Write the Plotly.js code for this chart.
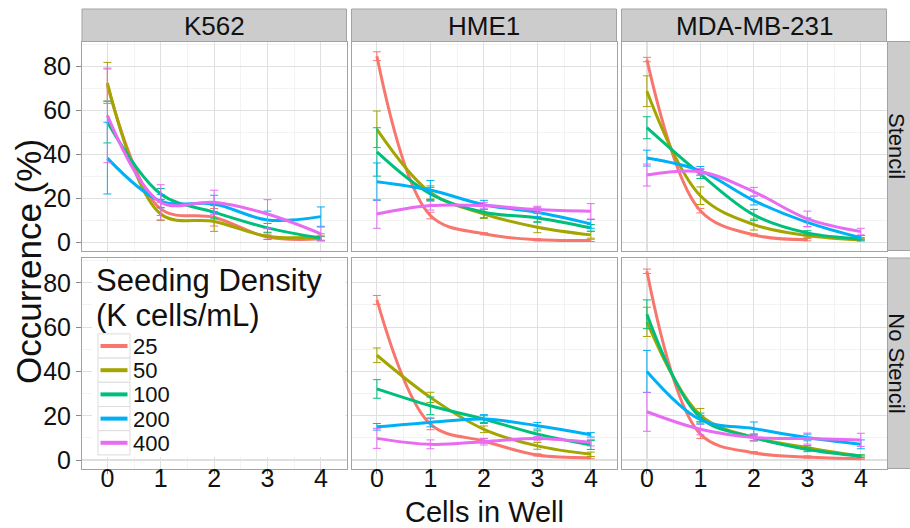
<!DOCTYPE html>
<html>
<head>
<meta charset="utf-8">
<script src="https://cdn.plot.ly/plotly-3.0.1.min.js"></script>
<style>html,body{margin:0;padding:0;background:#fff;}#chart{width:910px;height:528px;}</style>
</head>
<body>
<div id="chart"></div>
<script>
// ---------- data ----------
const cellsInWell = [0, 1, 2, 3, 4];
const densities = ['25', '50', '100', '200', '400'];
const colors = ['#F8766D', '#A3A500', '#00BF7D', '#00B0F6', '#E76BF3'];
const cellLines = ['K562', 'HME1', 'MDA-MB-231'];
const conditions = ['Stencil', 'No Stencil'];

// rows: 25, 50, 100, 200, 400 K cells/mL ; columns: 0..4 cells in well
const k562Stencil = [
  [71.4, 15.1, 11.3, 2.3, 1.5],
  [72.4, 12.8, 9.4, 2.7, 2.3],
  [54.6, 21.9, 13.6, 6.5, 1.8],
  [38.2, 18.6, 17.3, 10.1, 11.6],
  [57.6, 18.1, 18.1, 12.8, 3.8]
];
const k562StencilErr = [
  [7.3, 3, 4, 1, 1],
  [9.3, 3, 4.5, 1.5, 1.5],
  [9.5, 2.5, 3, 2, 1],
  [16.3, 3, 4, 4, 4.4],
  [21.5, 8, 5.5, 6.5, 3]
];
const hme1Stencil = [
  [84.5, 12.1, 3.8, 1.1, 0.8],
  [51.3, 22.6, 12.8, 6.8, 3.3],
  [41.0, 21.9, 13.6, 11.0, 6.5],
  [27.5, 23.7, 17.0, 13.6, 8.3],
  [12.8, 16.6, 16.6, 14.8, 14.0]
];
const hme1StencilErr = [
  [2, 1.5, 0.5, 0.5, 0.5],
  [8.3, 3, 2, 2.5, 1.5],
  [11, 3, 2.5, 2, 1.5],
  [8.5, 4.3, 2, 2, 2],
  [6.5, 2, 1.5, 1.5, 3.5]
];
const mdaStencil = [
  [83.0, 14.3, 3.3, 1.1, null],
  [68.6, 21.1, 8.0, 3.0, 1.0],
  [52.0, 30.9, 12.4, 4.2, 1.5],
  [38.2, 32.4, 18.9, 9.0, 2.0],
  [30.5, 32.0, 22.9, 10.6, 4.8]
];
const mdaStencilErr = [
  [1, 1, 0.5, 0.5, null],
  [7, 4, 2.5, 1, 0.5],
  [5, 2, 2.5, 1, 0.5],
  [3.6, 2, 2, 2, 1],
  [5, 1.5, 2, 3.5, 1.5]
];
const hme1NoStencil = [
  [72.3, 16.2, 8.6, 2.3, 1.1],
  [47.3, 28.3, 13.9, 6.4, 2.6],
  [32.1, 24.5, 18.5, 11.7, 6.8],
  [15.0, 17.0, 18.5, 15.5, 11.4],
  [9.8, 7.1, 8.3, 9.7, 7.9]
];
const hme1NoStencilErr = [
  [2, 2.5, 1, 0.5, 0.5],
  [3.3, 2.3, 1.5, 1.5, 1],
  [4.2, 4, 1.5, 1.5, 2],
  [1.5, 2, 2, 1.5, 1],
  [4.5, 2, 1.5, 1, 1.5]
];
const mdaNoStencil = [
  [85.2, 11.7, 3.3, 1.4, 0.6],
  [62.4, 20.3, 10.2, 5.6, 1.8],
  [65.8, 19.2, 10.2, 4.8, 1.8],
  [40.0, 18.2, 14.2, 10.2, 7.1],
  [21.8, 13.9, 10.2, 9.7, 9.1]
];
const mdaNoStencilErr = [
  [1, 2, 0.5, 0.5, 0.3],
  [6.6, 3, 1.5, 1, 0.5],
  [6.5, 2, 1.5, 1, 0.5],
  [9.5, 2, 3, 1.5, 2],
  [8.8, 2.5, 1.5, 2.5, 3]
];
const yTicks = [0, 20, 40, 60, 80];
const xTicks = [0, 1, 2, 3, 4];

// ---------- layout geometry (pixels) ----------
const W = 910, H = 528;
const colPx = [[82, 346.5], [351.5, 616.5], [621.5, 886.5]];
const rowPx = [[41.5, 250.5], [258, 468.5]];
const px = v => v / W;
const py = v => 1 - v / H;
const FONT = 'Arial, "Liberation Sans", sans-serif';
const TXT = '#111111';

const panels = [
  {row: 0, col: 0, mean: k562Stencil, err: k562StencilErr},
  {row: 0, col: 1, mean: hme1Stencil, err: hme1StencilErr},
  {row: 0, col: 2, mean: mdaStencil, err: mdaStencilErr},
  {row: 1, col: 0, mean: null, err: null},
  {row: 1, col: 1, mean: hme1NoStencil, err: hme1NoStencilErr},
  {row: 1, col: 2, mean: mdaNoStencil, err: mdaNoStencilErr}
];

const data = [];
const layout = {
  width: W, height: H,
  margin: {l: 0, r: 0, t: 0, b: 0},
  paper_bgcolor: '#ffffff', plot_bgcolor: '#ffffff',
  showlegend: false,
  font: {family: FONT, color: TXT},
  shapes: [], annotations: []
};

panels.forEach((p, k) => {
  const n = k + 1;
  const xa = 'x' + (n === 1 ? '' : n), ya = 'y' + (n === 1 ? '' : n);
  const xKey = 'xaxis' + (n === 1 ? '' : n), yKey = 'yaxis' + (n === 1 ? '' : n);
  const bottom = p.row === 1, left = p.col === 0;
  layout[xKey] = {
    domain: [px(colPx[p.col][0]), px(colPx[p.col][1])],
    anchor: ya, range: [-0.475, 4.48],
    tickmode: 'array', tickvals: xTicks, ticktext: xTicks.map(String),
    showticklabels: bottom, ticks: bottom ? 'outside' : '', ticklen: 4, tickwidth: 1, tickcolor: '#8a8a8a',
    ticklabelstandoff: -17,
    tickfont: {size: 25, family: FONT, color: TXT},
    showgrid: true, gridcolor: '#E0E0E0', gridwidth: 1.2,
    minor: {dtick: 0.5, tick0: 0, showgrid: true, gridcolor: '#F0F0F0', gridwidth: 0.8, ticks: ''},
    zeroline: false, showline: true, mirror: true, linecolor: '#A3A3A3', linewidth: 1,
    fixedrange: true
  };
  layout[yKey] = {
    domain: [py(rowPx[p.row][1]), py(rowPx[p.row][0])],
    anchor: xa, range: [-3.8, 91.2],
    tickmode: 'array', tickvals: yTicks, ticktext: yTicks.map(String),
    showticklabels: left, ticks: left ? 'outside' : '', ticklen: 5, tickwidth: 1, tickcolor: '#8a8a8a',
    tickfont: {size: 25, family: FONT, color: TXT},
    showgrid: true, gridcolor: '#E0E0E0', gridwidth: 1.2,
    minor: {dtick: 10, tick0: 0, showgrid: true, gridcolor: '#F0F0F0', gridwidth: 0.8, ticks: ''},
    zeroline: false, showline: true, mirror: true, linecolor: '#A3A3A3', linewidth: 1,
    fixedrange: true
  };
  if (!p.mean) {
    data.push({x: [], y: [], xaxis: xa, yaxis: ya, type: 'scatter', mode: 'lines', showlegend: false, hoverinfo: 'skip'});
    return;
  }
  densities.forEach((d, i) => {
    data.push({
      type: 'scatter', mode: 'lines', name: d,
      x: cellsInWell, y: p.mean[i], xaxis: xa, yaxis: ya,
      line: {color: colors[i], width: 3, shape: 'spline', smoothing: 1},
      error_y: {type: 'data', array: p.err[i], visible: true, color: colors[i], thickness: 1, width: 4},
      showlegend: false, connectgaps: false, hoverinfo: 'skip'
    });
  });
});

// strips (facet labels)
const STRIP_FILL = '#CCCCCC', STRIP_LINE = '#A3A3A3';
cellLines.forEach((name, c) => {
  layout.shapes.push({type: 'rect', xref: 'paper', yref: 'paper',
    x0: px(colPx[c][0]), x1: px(colPx[c][1]), y0: py(41.5), y1: py(9),
    fillcolor: STRIP_FILL, line: {color: STRIP_LINE, width: 1}});
  layout.annotations.push({xref: 'paper', yref: 'paper', x: px((colPx[c][0] + colPx[c][1]) / 2), y: py(25.5),
    text: name, showarrow: false, xanchor: 'center', yanchor: 'middle',
    font: {size: 26, family: FONT, color: TXT}});
});
conditions.forEach((name, r) => {
  layout.shapes.push({type: 'rect', xref: 'paper', yref: 'paper',
    x0: px(887.5), x1: px(921), y0: py(rowPx[r][1]), y1: py(rowPx[r][0]),
    fillcolor: STRIP_FILL, line: {color: STRIP_LINE, width: 1}});
  layout.annotations.push({xref: 'paper', yref: 'paper', x: px(897), y: py((rowPx[r][0] + rowPx[r][1]) / 2),
    text: name, showarrow: false, textangle: 90, xanchor: 'center', yanchor: 'middle', borderpad: 0,
    font: {size: 22, family: FONT, color: TXT}});
});

// axis titles
layout.annotations.push({xref: 'paper', yref: 'paper', x: px(484), y: py(512),
  text: 'Cells in Well', showarrow: false, xanchor: 'center', yanchor: 'middle', borderpad: 0,
  font: {size: 29, family: FONT, color: TXT}});
layout.annotations.push({xref: 'paper', yref: 'paper', x: px(28), y: py(262),
  text: 'Occurrence (%)', showarrow: false, textangle: -90, xanchor: 'center', yanchor: 'middle',
  font: {size: 35, family: FONT, color: TXT}});

// legend (drawn inside the empty K562 / No Stencil panel)
layout.shapes.push({type: 'rect', xref: 'paper', yref: 'paper', layer: 'above',
  x0: px(92), x1: px(345.5), y0: py(457), y1: py(262),
  fillcolor: '#ffffff', line: {width: 0}});
layout.annotations.push({xref: 'paper', yref: 'paper', x: px(95), y: py(280),
  text: 'Seeding Density', showarrow: false, xanchor: 'left', yanchor: 'middle', borderpad: 0,
  font: {size: 31, family: FONT, color: TXT}});
layout.annotations.push({xref: 'paper', yref: 'paper', x: px(95), y: py(315.5),
  text: '(K cells/mL)', showarrow: false, xanchor: 'left', yanchor: 'middle', borderpad: 0,
  font: {size: 31, family: FONT, color: TXT}});
const keyY0 = 346, keyStep = 24.2;
densities.forEach((d, i) => {
  const cy = keyY0 + i * keyStep;
  layout.shapes.push({type: 'rect', xref: 'paper', yref: 'paper', layer: 'above',
    x0: px(98), x1: px(130), y0: py(cy + keyStep / 2), y1: py(cy - keyStep / 2),
    fillcolor: '#ffffff', line: {color: '#DCDCDC', width: 1}});
  layout.shapes.push({type: 'line', xref: 'paper', yref: 'paper', layer: 'above',
    x0: px(100.5), x1: px(127.5), y0: py(cy), y1: py(cy),
    line: {color: colors[i], width: 4}});
  layout.annotations.push({xref: 'paper', yref: 'paper', x: px(132), y: py(cy + 0.5),
    text: d, showarrow: false, xanchor: 'left', yanchor: 'middle', borderpad: 0,
    font: {size: 22, family: FONT, color: TXT}});
});

Plotly.newPlot('chart', data, layout, {staticPlot: true, displayModeBar: false});
</script>
</body>
</html>
